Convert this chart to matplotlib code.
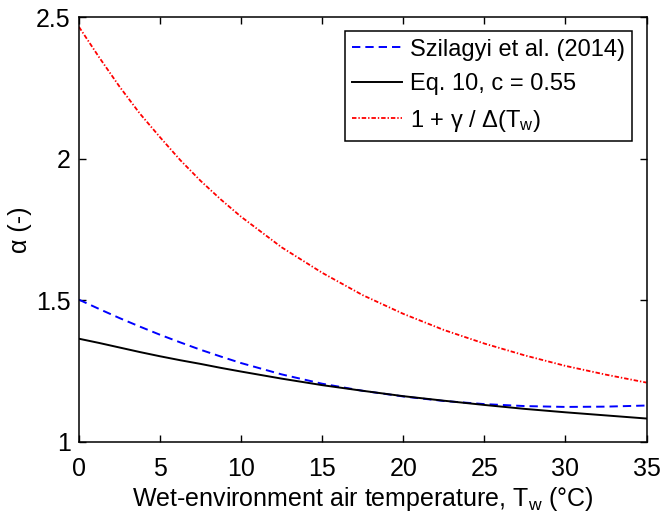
import matplotlib
matplotlib.use("Agg")
import matplotlib.pyplot as plt

plt.rcParams['font.family'] = ['Liberation Sans', 'DejaVu Sans']
plt.rcParams['mathtext.fontset'] = 'custom'
plt.rcParams['mathtext.rm'] = 'Liberation Sans'
plt.rcParams['mathtext.it'] = 'Liberation Sans:italic'
plt.rcParams['lines.scale_dashes'] = False

# Data
t_w = [0, 1.25, 2.5, 3.75, 5, 6.25, 7.5, 8.75, 10, 12.5, 15, 17.5, 20,
       22.5, 25, 27.5, 30, 32.5, 35]
szilagyi = [1.502, 1.469, 1.437, 1.407, 1.378, 1.351, 1.325, 1.301, 1.278,
            1.238, 1.205, 1.180, 1.160, 1.144, 1.133, 1.126, 1.123, 1.124, 1.128]
eq10 = [1.364, 1.349, 1.333, 1.317, 1.302, 1.288, 1.275, 1.261, 1.248,
        1.223, 1.200, 1.180, 1.161, 1.145, 1.130, 1.116, 1.104, 1.093, 1.082]
gamma_ratio = [2.466, 2.358, 2.255, 2.160, 2.076, 1.995, 1.922, 1.856, 1.795,
               1.687, 1.597, 1.518, 1.452, 1.395, 1.347, 1.305, 1.268, 1.237, 1.209]

x_ticks = [0, 5, 10, 15, 20, 25, 30, 35]
y_ticks = [1, 1.5, 2, 2.5]
y_tick_labels = ['1', '1.5', '2', '2.5']

fig = plt.figure(figsize=(6.62, 5.24), dpi=100)
ax = fig.add_axes([0.1193, 0.157, 0.8573, 0.810])

ax.plot(t_w, szilagyi, color=(0, 0, 1), lw=1.4, linestyle=(0, (6, 3.6)),
        label='Szilagyi et al. (2014)')
ax.plot(t_w, eq10, color='black', lw=1.4, label='Eq. 10, c = 0.55')
ax.plot(t_w, gamma_ratio, color=(1, 0, 0), lw=1.3, linestyle=(0, (3.2, 1.4, 1.0, 1.4)),
        label='1 + γ / Δ(T$_\\mathregular{w}$)')

ax.set_xlim(0, 35)
ax.set_ylim(1, 2.5)
ax.set_xticks(x_ticks)
ax.set_yticks(y_ticks)
ax.set_yticklabels(y_tick_labels)
ax.tick_params(direction='in', length=5, width=1, top=True, right=True,
               labelsize=18)
ax.tick_params(axis='x', pad=11)
ax.tick_params(axis='y', pad=6)
for s in ax.spines.values():
    s.set_linewidth(1.1)

ax.set_xlabel('Wet-environment air temperature, T$_\\mathregular{w}$ (°C)', fontsize=18, labelpad=3)
ax.set_ylabel('α (-)', fontsize=18, labelpad=3)

leg = ax.legend(loc='upper right', fontsize=17, frameon=True, fancybox=False,
                edgecolor='black', framealpha=1, borderpad=0.3, labelspacing=0.53,
                handlelength=2.1, handletextpad=0.35, borderaxespad=0.6)
leg.get_frame().set_linewidth(1.1)

fig.savefig('out.png', dpi=100)
